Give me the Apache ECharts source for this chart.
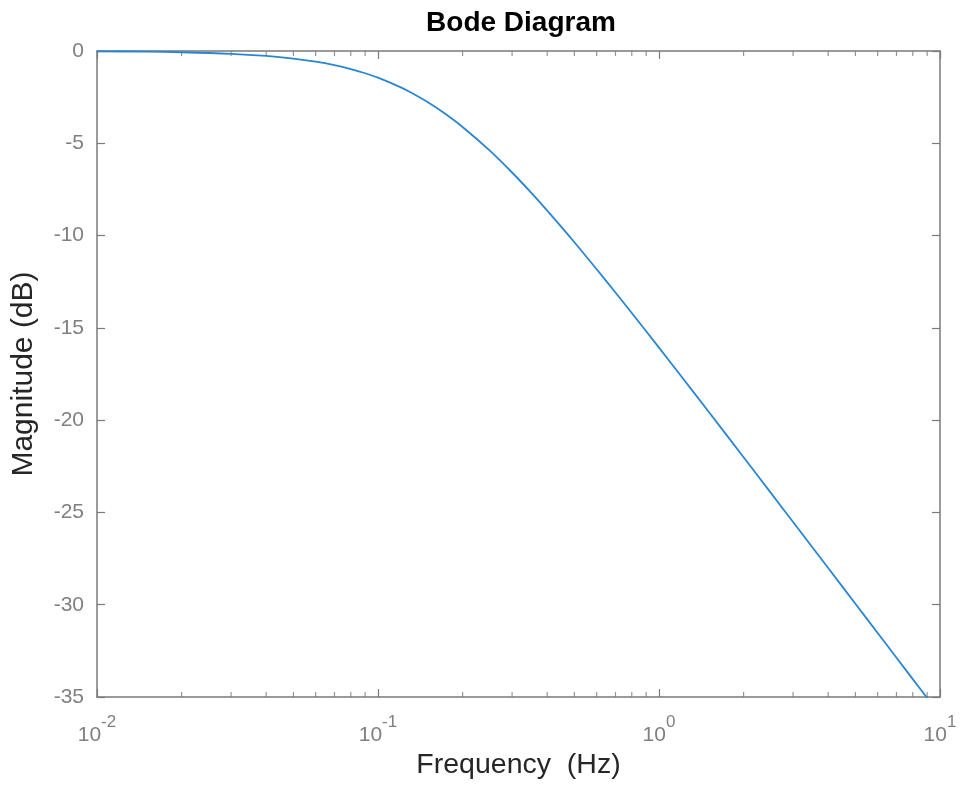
<!DOCTYPE html>
<html>
<head>
<meta charset="utf-8">
<script src="https://cdn.jsdelivr.net/npm/echarts@6/dist/echarts.min.js"></script>
<style>html,body{margin:0;padding:0;background:#fff;}#c{width:961px;height:785px;}</style>
</head>
<body>
<div id="c"></div>
<script>
// Frequency (Hz) and magnitude (dB)
var freqHz = [0.01, 0.015, 0.02, 0.03, 0.04, 0.05, 0.06, 0.07, 0.08, 0.09, 0.1, 0.12, 0.13, 0.15, 0.17, 0.2, 0.25, 0.3, 0.35, 0.4, 0.45, 0.5, 0.6, 0.7, 0.8, 1.0, 1.2, 1.5, 2, 2.5, 3, 4, 5, 6, 7, 8, 9, 10];
var magDb = [-0.017, -0.038, -0.068, -0.152, -0.266, -0.409, -0.577, -0.768, -0.979, -1.205, -1.445, -1.955, -2.220, -2.761, -3.306, -4.115, -5.400, -6.583, -7.661, -8.644, -9.540, -10.362, -11.822, -13.084, -14.194, -16.072, -17.623, -19.534, -22.012, -23.940, -25.519, -28.011, -29.947, -31.530, -32.870, -34.030, -35.050, -35.970];
// Axis settings
var xMin = 0.01, xMax = 10;
var yMin = -35, yMax = 0, yStep = 5;
// Minor tick positions on the log frequency axis
var minorTicks = [0.02,0.03,0.04,0.05,0.06,0.07,0.08,0.09,0.2,0.3,0.4,0.5,0.6,0.7,0.8,0.9,2,3,4,5,6,7,8,9];

var FONT = '"Liberation Sans", Arial, Helvetica, sans-serif';
var AX = '#7a7a7a';
var LBL = '#808080';

var chart = echarts.init(document.getElementById('c'), null, {renderer: 'canvas'});

var lineData = freqHz.map(function (f, i) { return [f, magDb[i]]; });
var minorBottom = minorTicks.map(function (f) { return [f, yMin]; });
var minorTop = minorTicks.map(function (f) { return [f, yMax]; });

function expLabel(v) {
  var e = Math.round(Math.log(v) / Math.LN10);
  return '{b|10}{s|' + e + '}';
}

var tick = {show: true, inside: true, length: 8, lineStyle: {color: AX, width: 1.2}};
var line = {show: true, onZero: false, lineStyle: {color: AX, width: 1.5}};

var option = {
  backgroundColor: '#ffffff',
  animation: false,
  title: {
    text: 'Bode Diagram',
    left: 516,
    top: 4,
    textAlign: 'center',
    textStyle: {fontFamily: FONT, fontSize: 28, fontWeight: 'bold', color: '#000000'}
  },
  grid: {left: 97, right: 21, top: 51, bottom: 88},
  xAxis: [{
    type: 'log', logBase: 10, min: xMin, max: xMax, position: 'bottom',
    name: 'Frequency  (Hz)', nameLocation: 'middle', nameGap: 53,
    nameTextStyle: {fontFamily: FONT, fontSize: 28.5, color: '#262626'},
    axisLine: line,
    axisTick: tick,
    splitLine: {show: false},
    axisLabel: {
      margin: 17,
      formatter: expLabel,
      rich: {
        b: {fontFamily: FONT, fontSize: 21, color: LBL, lineHeight: 32, verticalAlign: 'bottom'},
        s: {fontFamily: FONT, fontSize: 17, color: LBL, verticalAlign: 'top'}
      }
    }
  }, {
    type: 'log', logBase: 10, min: xMin, max: xMax, position: 'top',
    axisLine: line,
    axisTick: tick,
    axisLabel: {show: false},
    splitLine: {show: false}
  }],
  yAxis: [{
    type: 'value', min: yMin, max: yMax, interval: yStep, position: 'left',
    name: 'Magnitude (dB)', nameLocation: 'middle', nameGap: 58,
    nameTextStyle: {fontFamily: FONT, fontSize: 30, color: '#262626'},
    axisLine: line,
    axisTick: tick,
    axisLabel: {margin: 13, fontFamily: FONT, fontSize: 21, color: LBL},
    splitLine: {show: false}
  }, {
    type: 'value', min: yMin, max: yMax, interval: yStep, position: 'right',
    axisLine: line,
    axisTick: tick,
    axisLabel: {show: false},
    splitLine: {show: false}
  }],
  series: [{
    type: 'line',
    data: lineData,
    xAxisIndex: 0, yAxisIndex: 0,
    showSymbol: false,
    smooth: 0.3,
    clip: true,
    lineStyle: {color: '#2a86d1', width: 1.8},
    z: 5
  }, {
    type: 'scatter', data: minorBottom, xAxisIndex: 0, yAxisIndex: 0,
    symbol: 'rect', symbolSize: [1.2, 5], symbolOffset: [0, -2.5],
    itemStyle: {color: AX}, silent: true, clip: false, z: 3
  }, {
    type: 'scatter', data: minorTop, xAxisIndex: 0, yAxisIndex: 0,
    symbol: 'rect', symbolSize: [1.2, 5], symbolOffset: [0, 2.5],
    itemStyle: {color: AX}, silent: true, clip: false, z: 3
  }]
};
chart.setOption(option);
</script>
</body>
</html>
